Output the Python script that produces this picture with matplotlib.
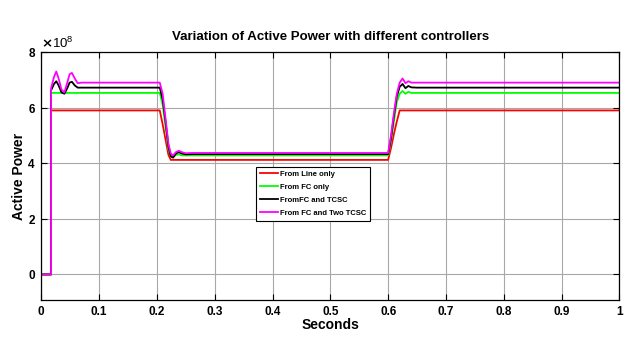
"""
Active power of the line with different controllers (FC, TCSC, two TCSC)
"""

import numpy as np
from matplotlib import pyplot
from matplotlib.ticker import ScalarFormatter

OUTPUT_FILENAME = 'out.png'
IMAGE_DPI = 100
HORIZONTAL_IMAGE_SIZE_INCHES = 6.25
VERTICAL_IMAGE_SIZE_INCHES = 3.38
SCALE = 1e8

# time knots in seconds, shared by every series
time_s = [0.0, 0.017, 0.017, 0.022, 0.026, 0.030, 0.035, 0.040, 0.045, 0.049,
          0.053, 0.058, 0.063, 0.070, 0.205, 0.210, 0.215, 0.220, 0.224, 0.228,
          0.233, 0.238, 0.243, 0.250, 0.260, 0.600, 0.605, 0.610, 0.615, 0.620,
          0.625, 0.630, 0.635, 0.640, 0.650, 1.0]

# active power in units of 1e8
line_only = [0, 0, 5.9, 5.9, 5.9, 5.9, 5.9, 5.9, 5.9, 5.9,
             5.9, 5.9, 5.9, 5.9, 5.9, 5.4, 4.85, 4.3, 4.12, 4.12,
             4.12, 4.12, 4.12, 4.12, 4.12, 4.12, 4.55, 5.05, 5.5, 5.9,
             5.9, 5.9, 5.9, 5.9, 5.9, 5.9]
fc_only = [0, 0, 6.53, 6.53, 6.53, 6.53, 6.53, 6.53, 6.53, 6.53,
           6.53, 6.53, 6.53, 6.53, 6.53, 6.1, 5.3, 4.5, 4.25, 4.22,
           4.3, 4.32, 4.28, 4.28, 4.28, 4.28, 4.8, 5.5, 6.2, 6.5,
           6.6, 6.5, 6.57, 6.53, 6.53, 6.53]
fc_tcsc = [0, 0, 6.62, 6.85, 6.95, 6.8, 6.55, 6.5, 6.7, 6.9,
           6.93, 6.8, 6.72, 6.72, 6.72, 6.3, 5.5, 4.6, 4.25, 4.2,
           4.35, 4.4, 4.35, 4.32, 4.33, 4.33, 4.9, 5.7, 6.4, 6.75,
           6.85, 6.7, 6.78, 6.73, 6.72, 6.72]
fc_two_tcsc = [0, 0, 6.7, 7.1, 7.3, 7.05, 6.65, 6.55, 6.9, 7.2,
               7.25, 7.05, 6.88, 6.9, 6.9, 6.5, 5.6, 4.7, 4.35, 4.28,
               4.4, 4.45, 4.4, 4.36, 4.37, 4.37, 5.0, 5.8, 6.5, 6.9,
               7.05, 6.88, 6.95, 6.9, 6.9, 6.9]

series_labels = ['From Line only', 'From FC only', 'FromFC and TCSC',
                 'From FC and Two TCSC']
series_colors = ['#ff0000', '#00ff00', '#000000', '#ff00ff']

x_ticks = [0, 0.1, 0.2, 0.3, 0.4, 0.5, 0.6, 0.7, 0.8, 0.9, 1]
x_tick_labels = ['0', '0.1', '0.2', '0.3', '0.4', '0.5', '0.6', '0.7', '0.8', '0.9', '1']
y_ticks = [0, 2e8, 4e8, 6e8, 8e8]


def main():
    pyplot.rcParams['font.family'] = ['Liberation Sans Narrow', 'Liberation Sans', 'DejaVu Sans']
    pyplot.rcParams['font.weight'] = 'bold'

    fig = pyplot.figure(figsize=(HORIZONTAL_IMAGE_SIZE_INCHES, VERTICAL_IMAGE_SIZE_INCHES),
                        dpi=IMAGE_DPI)
    ax = fig.add_axes([0.066, 0.1124, 0.925, 0.7336])

    t = np.array(time_s)
    all_series = [line_only, fc_only, fc_tcsc, fc_two_tcsc]
    for values, label, color in zip(all_series, series_labels, series_colors):
        ax.plot(t, np.array(values) * SCALE, color=color, lw=1.3, label=label)

    ax.set_xlim(0, 1)
    ax.set_ylim(-0.92e8, 8e8)
    ax.set_xticks(x_ticks)
    ax.set_xticklabels(x_tick_labels)
    ax.set_yticks(y_ticks)

    fmt = ScalarFormatter(useMathText=True)
    fmt.set_powerlimits((0, 0))
    ax.yaxis.set_major_formatter(fmt)
    ax.yaxis.get_offset_text().set_fontsize(9.5)
    ax.yaxis.get_offset_text().set_fontweight('normal')

    ax.tick_params(direction='in', top=True, right=True, length=4, width=0.8,
                   labelsize=8.5, pad=4)
    for lab in ax.get_xticklabels() + ax.get_yticklabels():
        lab.set_fontweight('bold')
    ax.grid(True, color='#a8a8a8', lw=0.8)
    for spine in ax.spines.values():
        spine.set_linewidth(0.9)

    ax.set_title('Variation of Active Power with different controllers',
                 fontsize=9.5, fontweight='bold', pad=9)
    ax.set_xlabel('Seconds', fontsize=10, fontweight='bold', labelpad=0)
    ax.set_ylabel('Active Power', fontsize=10, fontweight='bold',
                  family=['Liberation Sans', 'DejaVu Sans'], labelpad=1)

    leg = ax.legend(loc='upper left', bbox_to_anchor=(0.372, 0.536),
                    fontsize=5.5, frameon=True, fancybox=False, framealpha=1,
                    edgecolor='black', handlelength=2.4, borderpad=0.45,
                    labelspacing=0.75, handletextpad=0.25, borderaxespad=0)
    leg.get_frame().set_linewidth(0.8)
    for text in leg.get_texts():
        text.set_fontweight('bold')

    fig.savefig(OUTPUT_FILENAME, dpi=IMAGE_DPI)


if __name__ == '__main__':
    main()
